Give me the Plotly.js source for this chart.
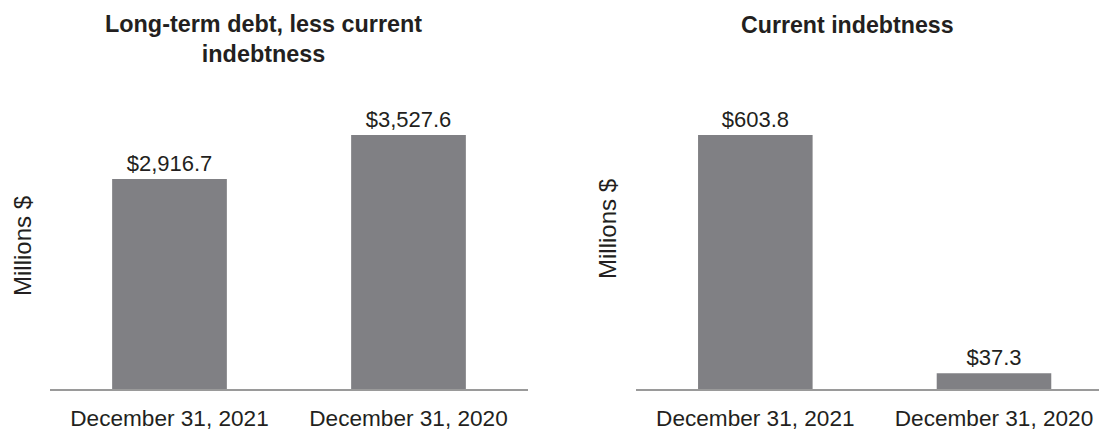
<!DOCTYPE html>
<html>
<head>
<meta charset="utf-8">
<script src="https://cdn.plot.ly/plotly-3.0.1.min.js"></script>
<style>html,body{margin:0;padding:0;background:#fff;}#chart{width:1099px;height:430px;}</style>
</head>
<body>
<div id="chart"></div>
<script>
const categories = ["December 31, 2021", "December 31, 2020"];
const longTermDebt = [2916.7, 3527.6];
const currentIndebtness = [603.8, 37.3];
const leftTitle = "Long-term debt, less current<br>indebtness";
const rightTitle = "Current indebtness";
const yTitle = "Millions $";

const W = 1099;
const FONT = "Liberation Sans, Arial, sans-serif";
const TXT = "#231f20";
const BAR = "#808084";

const traces = [
  {type: "bar", x: categories, y: longTermDebt, xaxis: "x", yaxis: "y",
   marker: {color: BAR}, width: 0.48,
   texttemplate: "$%{y:,.1f}", textposition: "outside", cliponaxis: false,
   textfont: {family: FONT, size: 22, color: TXT}, hoverinfo: "skip"},
  {type: "bar", x: categories, y: currentIndebtness, xaxis: "x2", yaxis: "y2",
   marker: {color: BAR}, width: 0.48,
   texttemplate: "$%{y:,.1f}", textposition: "outside", cliponaxis: false,
   textfont: {family: FONT, size: 22, color: TXT}, hoverinfo: "skip"}
];

const xCommon = {
  type: "category", showgrid: false, zeroline: false, ticks: "",
  showline: true, linecolor: "#9a9a9a", linewidth: 2,
  ticklabelstandoff: 8,
  tickfont: {family: FONT, size: 22.6, color: TXT}, fixedrange: true
};
const yCommon = {
  showgrid: false, zeroline: false, showline: false, showticklabels: false,
  ticks: "", fixedrange: true
};

const layout = {
  width: 1099, height: 430,
  margin: {l: 0, r: 0, t: 60, b: 41},
  paper_bgcolor: "#fff", plot_bgcolor: "#fff",
  showlegend: false,
  font: {family: FONT, color: TXT},
  xaxis: Object.assign({}, xCommon, {domain: [50 / W, 528 / W], range: [-0.5, 1.5], anchor: "y"}),
  xaxis2: Object.assign({}, xCommon, {domain: [636 / W, 1], range: [-0.5, 1.44], anchor: "y2"}),
  yaxis: Object.assign({}, yCommon, {range: [0, 4569], anchor: "x"}),
  yaxis2: Object.assign({}, yCommon, {range: [0, 782], anchor: "x2"}),
  annotations: [
    {text: "<b>" + leftTitle + "</b>", xref: "paper", yref: "paper", x: 263 / W, y: (389 - 39) / 329,
     xanchor: "center", yanchor: "middle", showarrow: false, align: "center",
     font: {family: FONT, size: 23.4, color: TXT}},
    {text: "<b>" + rightTitle + "</b>", xref: "paper", yref: "paper", x: 847 / W, y: (389 - 25) / 329,
     xanchor: "center", yanchor: "middle", showarrow: false,
     font: {family: FONT, size: 23.2, color: TXT}},
    {text: yTitle, xref: "paper", yref: "paper", x: 22 / W, y: (389 - 246) / 329,
     xanchor: "center", yanchor: "middle", showarrow: false, textangle: -90,
     font: {family: FONT, size: 24, color: TXT}},
    {text: yTitle, xref: "paper", yref: "paper", x: 608 / W, y: (389 - 229) / 329,
     xanchor: "center", yanchor: "middle", showarrow: false, textangle: -90,
     font: {family: FONT, size: 24, color: TXT}}
  ]
};

Plotly.newPlot("chart", traces, layout, {displayModeBar: false, staticPlot: true});
</script>
</body>
</html>
